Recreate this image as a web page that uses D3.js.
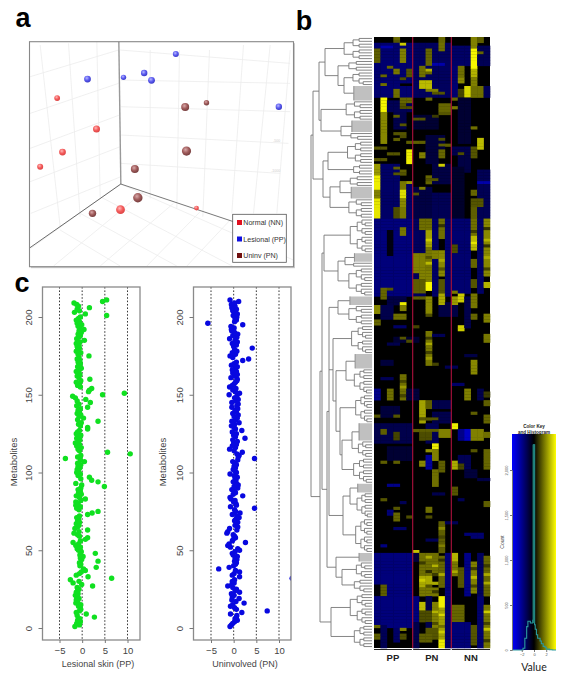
<!DOCTYPE html>
<html><head><meta charset="utf-8">
<script src="https://cdn.jsdelivr.net/npm/d3@7"></script>
<style>html,body{margin:0;padding:0;background:#fff}svg{display:block;font-family:"Liberation Sans",Arial,sans-serif}</style>
</head><body><svg id="c" width="570" height="683"></svg>
<script>
/* ---------- panel a: 3D PCA view ---------- */
const legendLabels = ["Normal (NN)", "Lesional (PP)", "Uninv (PN)"];
const legendColors = ["#e01020", "#1010e0", "#701010"];
const pcaBlueX = [527,370,432,454,262,836], pcaBlueY = [162,232,219,241,237,320], pcaBlueR = [3,2.7,3.2,3.4,3.4,3.2];
const pcaRedX = [171,289,187,120,361,589], pcaRedY = [294,387,456,500,629,624], pcaRedR = [2.9,3.5,3.4,3,4.4,2.4];
const pcaBrownX = [555,619,559,404,413,277], pcaBrownY = [321,308,453,507,593,640], pcaBrownR = [4,2.7,4.6,4,4.7,3.7];
const pcaTickLabels = ["0","-500","-1000"];
const pcaTickY = [328,427,517];

/* ---------- panel c: z scores per metabolite (index = y) ---------- */
const lesionalPP = [
-1.6,-0.6,-1.2,-0.4,-1.0,-0.5,2.7,-1.1,0.9,-1.3,
-0.6,-0.3,-0.4,-0.8,-0.3,-1.4,-1.0,-1.3,-0.7,-1.2,
-1.5,-0.9,-1.3,-1.0,-0.7,-1.1,2.3,-0.1,-2.0,-0.7,
-2.6,6.5,1.3,-1.3,-0.6,-0.2,0.7,0.3,3.1,-0.5,
-0.3,-0.6,3.5,-0.1,-0.4,0.2,-0.5,2.9,-0.2,-0.8,
-1.1,-0.4,-1.4,-0.8,-2.0,-0.4,0.7,1.2,-0.6,-1.0,
-1.8,-0.7,1.2,-1.6,-1.0,-0.7,-1.3,-0.6,-1.0,-0.8,
-1.2,-0.6,1.2,2.2,3.5,-0.7,-1.2,-0.4,-1.4,-0.9,
-1.4,-0.3,0.7,-0.6,-1.3,-0.2,-0.8,-0.4,-0.9,-0.3,
4.9,-0.1,-1.4,3.5,2.1,-0.3,1.6,-0.9,-0.4,-1.2,
-0.8,-1.1,-0.5,-0.9,-0.3,-1.0,0.5,-0.4,-3.7,-1.0,
-0.3,10.6,5.6,-0.6,-0.9,-0.2,-1.2,-0.6,-1.5,-0.9,
-0.5,-1.2,-0.7,-0.3,-1.3,-1.0,-0.6,1.2,1.2,-0.4,
-0.8,-0.2,3.5,-1.0,0.3,-0.7,-0.3,-1.1,-0.6,-0.9,
-0.4,1.2,-1.2,-0.7,1.8,-1.1,0.8,-1.5,-2.1,4.5,
9.3,1.4,1.6,2.1,-0.4,-1.0,-0.6,-1.3,-0.3,1.7,
-0.7,-1.1,-0.5,-0.9,-1.3,-0.6,-0.2,-1.0,-0.7,-0.4,
-0.9,-0.5,-1.1,-0.7,1.5,-0.9,-0.3,-1.3,-1.0,-0.6,
-1.1,-0.7,-1.3,-0.5,0.5,-1.2,-0.8,-0.4,-0.9,-0.2,
-0.7,0.4,-0.5,-0.9,-0.1,-1.1,-0.6,-1.3,-0.8,-0.4,
5.4,0.7,-1.7,-0.6,-1.1,1.6,-0.8,-1.2,-1.8,4.5,
5.4];
const uninvolvedPN = [
-0.8,-0.5,-0.2,0.2,0.8,0.3,0.6,0.7,-0.7,1.8,
7.4,0.6,0.2,-0.7,-0.2,2.3,0.5,-0.4,1.2,-0.3,
0.1,-0.5,1.3,0.3,0.6,-0.2,-1.3,-0.4,0.1,-0.3,
0.2,12.9,1.3,-0.3,0.1,1.3,0.4,-3.3,-1.0,0.0,
0.4,0.6,0.2,0.7,0.3,0.8,-0.1,-0.3,0.3,1.3,
0.9,-0.7,-1.3,-1.0,2.6,-0.3,-0.1,0.4,0.2,-0.1,
-1.5,-1.3,0.7,-0.9,0.9,0.3,0.6,0.9,0.2,0.5,
1.2,0.7,-0.3,1.4,0.4,0.2,4.6,-0.7,0.6,0.5,
0.0,0.3,-0.6,-0.8,2.0,-0.1,0.4,0.2,-0.4,0.9,
0.1,1.0,0.6,-0.1,0.5,0.3,0.8,0.1,-0.8,0.6,
0.3,-0.1,0.4,0.1,0.6,0.3,-0.2,0.9,4.6,1.0,
1.2,0.7,1.9,0.1,-0.9,0.4,-0.3,0.6,0.0,0.8,
-0.2,2.5,0.4,0.0,0.6,-0.3,1.8,0.4,0.1,-0.5,
0.2,1.2,-0.4,0.4,0.8,0.1,1.0,-0.2,0.6,0.3,
0.9,-0.4,0.7,1.0,-0.4,0.5,1.0,0.2,0.7,-1.0,
1.3,0.4,-0.2,0.5,-0.9,-0.3,0.1,0.4,0.7,0.8,
-0.6,0.2,0.8,-0.2,0.6,-0.3,0.3,0.8,-0.5,0.1,
0.6,2.0,3.3,-0.2,-0.8,0.4,-0.3,0.7,0.2,4.1,
0.0,0.6,-0.3,0.8,0.3,-0.9,0.7,-0.2,0.9,0.2,
-0.4,-0.5,0.1,-0.6,2.0,-5.7,0.2,0.6,0.3,0.7,
-0.1,0.8,0.4,-0.2,0.6,-0.4,0.3,-0.5,0.2,1.1,
-0.8];
const scatterXTicks = [-5,0,5,10];
const scatterYTicks = [0,50,100,150,200];

/* ---------- panel b: heat map, 212 rows x 18 columns ---------- */
const heatGroups = ["PP","PN","NN"];
const heatRowCount = 212, heatColCount = 18;
/* [firstRow,lastRow,firstCol,lastCol,value] */
const heatBlueBlocks = [
[2,20,0,5,-1.3],[2,20,6,11,-1.1],[3,9,12,14,-1.2],[10,20,12,12,-1.3],[3,9,16,17,-1],[17,20,16,17,-1],
[22,25,2,5,-1],[26,31,3,4,-0.9],[21,36,13,14,-0.6],[27,31,6,9,-0.6],[34,38,8,10,-0.7],
[38,43,8,9,-0.7],[38,40,12,14,-0.9],[41,46,13,14,-0.8],[44,62,1,3,-1.2],[50,62,5,5,-1.2],[45,62,12,13,-0.5],[52,62,6,8,-0.8],[44,50,9,11,-0.8],[54,62,9,11,-1.0],[46,62,16,17,-1.0],
[63,89,0,5,-1.45],[63,89,6,7,-1.1],[63,89,9,9,-1.2],[63,89,11,11,-1.3],[63,88,12,14,-1.3],[63,88,16,16,-1.2],
[67,75,2,2,-0.2],[90,92,2,4,-0.8],[93,97,1,2,-0.9],[92,96,10,12,-0.8],[90,100,14,14,-0.9],[104,105,3,6,-0.6],[112,113,1,2,-0.7],[122,125,0,0,-1.6],[122,125,5,6,-0.7],[122,125,16,16,-0.9],
[126,128,9,11,-0.9],[128,131,1,3,-0.7],[130,133,9,11,-0.9],[134,140,0,5,-0.9],[134,140,8,9,-1],[136,139,13,14,-1.6],[136,139,14,14,-2.3],
[142,146,2,5,-0.6],[145,149,8,8,-1.8],[145,149,13,14,-1],[164,165,2,2,-1.4],[172,173,15,16,-1.3],[150,152,14,15,-0.7],
[179,193,0,5,-1.45],[179,193,11,11,-1.4],[182,185,10,10,-1.3],[179,193,14,14,-1.6],[179,193,16,16,-1.1],[179,181,6,7,-0.7],
[190,193,0,0,-0.1],[194,204,0,6,-1.45],[194,204,8,8,-0.9],[204,211,1,1,-1],[205,209,3,3,-1.2],[194,211,11,11,-1.2],[203,211,12,14,-1.4],[194,211,16,16,-1.3],[203,211,6,6,-0.9]
];
const heatYellowBlocks = [
[0,0,3,3,1.2],[0,1,10,10,1.2],[0,4,15,15,1.5],[0,1,16,16,1.1],[2,2,4,4,2.4],[2,4,10,10,1.3],
[4,8,0,0,1.1],[4,8,4,4,1.5],[4,9,8,8,1.2],[4,10,15,15,2.9],[5,5,16,16,1.2],
[10,13,7,7,1.3],[11,11,8,8,2.1],[12,12,8,8,1.2],[11,12,3,3,1.4],[11,13,5,5,1.0],[13,13,1,1,1.2],[10,13,13,13,1.3],[11,15,15,15,2.1],[14,15,13,13,1.6],
[15,17,7,8,2.2],[14,16,15,15,1.5],[17,20,14,14,2.5],[17,20,15,16,1.3],[18,20,13,13,0.8],[18,20,3,3,1.3],[18,18,8,9,1.5],
[21,25,1,1,2.9],[26,36,1,1,1.6],[21,22,4,5,1.2],[21,21,8,8,1.2],[23,25,10,11,1.2],[24,24,12,12,1.4],[30,30,4,4,1],[34,34,4,4,0.9],[27,27,9,9,0.7],
[36,36,5,7,1.1],[35,35,10,10,0.9],[37,37,10,11,1.1],[35,38,16,16,2.2],[39,41,10,10,1.2],[38,41,15,15,1.0],[40,41,7,7,1.5],[39,43,5,5,2.8],[40,40,2,3,1],[42,42,0,1,1],
[44,47,0,0,1.8],[48,52,0,0,2.8],[53,55,0,0,1.5],[56,62,0,0,2.7],[44,44,10,10,2.4],[48,50,8,8,1.2],[50,50,5,5,1.8],[50,52,4,4,1.4],[53,55,4,4,2.6],[56,58,4,4,1.6],[59,62,3,3,0.9],[59,62,4,4,1.4],[52,52,7,7,1.5],[53,54,15,15,1.2],[56,58,15,16,1.0],[59,62,15,15,1.1],
[63,69,10,10,1.3],[63,66,7,8,1.3],[66,68,4,4,1.4],[63,68,15,15,1.3],[69,73,15,15,2.2],[63,82,17,17,1.6],[67,73,8,8,1.9],[73,80,8,8,1.4],[74,76,9,9,1.5],[75,81,6,7,1.5],[74,82,10,10,1.6],[77,79,15,15,1.2],[72,74,12,12,0.9],
[81,84,7,8,1.5],[84,88,6,7,1.1],[85,87,8,8,2.9],[84,88,10,10,1.0],[84,86,15,15,1.0],[85,86,17,17,2.1],[87,87,1,2,1],
[87,90,1,1,1.2],[89,92,10,10,2.0],[90,92,12,12,1.8],[89,91,13,13,2.4],[89,93,15,15,1.4],[88,88,12,12,1.4],[90,95,8,8,1.6],[90,90,6,7,1.1],
[93,95,0,0,1.6],[92,92,4,4,2.8],[93,94,4,4,1.5],[96,97,3,4,1.3],[96,97,15,15,1.2],[96,98,17,17,1.5],[98,99,0,0,1.2],[96,96,8,8,0.9],
[100,101,13,13,2.4],[102,113,8,8,1.4],[104,104,4,4,1.0],[103,105,17,17,1.4],[100,100,6,6,0.8],[112,116,15,15,1.6],[105,105,5,5,0.9],[113,113,9,9,0.8],
[117,125,4,4,1.3],[122,125,2,2,1.3],[122,125,14,14,1.5],[123,124,17,17,0.7],
[126,133,7,7,1.9],[126,128,8,8,1.1],[126,127,17,17,1.1],[131,133,17,17,1.2],[130,130,15,15,1.1],[131,131,0,0,1],[131,131,3,3,1],[132,132,7,9,1.0],
[134,135,12,12,2.8],[136,136,6,9,1.1],[136,138,10,11,1.5],[136,139,15,16,1.5],[137,139,7,8,0.9],[136,137,1,1,1.1],[137,139,3,3,0.8],[137,138,17,17,1.3],
[141,142,9,9,2.8],[143,146,9,9,1.5],[143,143,8,8,1.7],[143,149,17,17,1.2],[143,143,15,15,1],
[147,148,7,7,1.6],[147,149,12,12,2.0],[147,147,1,1,1.1],[147,147,3,3,1.1],[147,150,10,10,1.1],[148,149,13,13,0.8],
[150,155,9,9,1.3],[156,158,12,12,1.0],[161,162,17,17,1.1],[160,160,1,1,1],[163,163,3,3,1],[163,164,8,8,1.3],[165,167,3,3,1.2],[166,166,8,8,0.9],[166,166,5,5,0.9],
[168,178,10,10,1.1],[178,178,6,6,2.3],
[179,181,12,12,2.1],[182,186,12,12,1.4],[179,186,7,9,1.3],[187,190,7,8,2.0],[191,193,7,9,1.4],[180,190,10,10,1.2],[184,190,13,13,1.0],[182,192,15,15,1.5],[180,193,17,17,1.2],[190,193,1,1,1.1],
[194,197,10,10,2.8],[198,208,10,10,1.9],[209,211,10,10,2.8],[196,204,9,9,1.5],[205,208,8,9,1.0],[196,198,7,7,2.2],[199,202,7,8,0.9],[197,202,12,13,1.2],[197,211,17,17,1.4],[204,210,15,15,1.0],[204,204,0,0,1.2],[207,208,0,0,1.1],[205,205,4,4,1.5],[207,208,4,4,0.9],[207,209,7,8,1.1]
];
/* one-row streaks: [row,firstCol,lastCol,value] */
const heatStreaks = [
[1,3,3,1],[3,1,2,-2],[9,9,10,-2],[10,2,2,1.2],[14,4,4,0.9],[16,4,5,0],[16,1,1,1.3],[19,9,10,1],[21,12,12,1.2],[23,4,4,1],[24,4,5,0.9],[26,10,11,1],[27,3,3,1.1],[28,6,7,1],[31,15,15,1.3],[33,3,4,1],[35,3,3,1.1],[38,0,1,1],[40,13,13,0.9],[45,3,3,1.1],[46,4,4,1.1],[47,3,4,1],[49,8,9,1],[50,16,17,-2],[54,6,6,1],
[66,17,17,0.6],[70,17,17,2.1],[72,17,17,0.6],[76,17,17,2],[80,17,17,0.8],[70,8,8,2.4],[76,8,8,1],[78,8,8,2.2],[65,10,10,0.6],[77,10,10,2],[80,10,10,1],[67,15,15,0.7],[71,15,15,2.7],
[100,3,4,-1.2],[103,9,10,-1.0],[106,2,3,-0.9],[110,14,15,-0.8],[114,11,12,-1],[118,1,2,-1],[120,12,13,-1.2],
[104,8,8,0.7],[106,8,8,2],[109,8,8,0.8],[111,8,8,1.8],[119,4,4,0.8],[121,4,4,1.8],[124,4,4,0.8],
[153,16,17,-0.8],[155,2,3,-1.6],[158,9,10,-0.9],[160,13,13,-1],[161,4,4,-1],[168,11,12,-1],[170,3,4,-1.2],[172,14,14,-1.4],[174,8,9,-1],[176,1,1,-1.5],
[170,10,10,1.6],[173,10,10,0.8],[176,10,10,1.5],
[180,8,8,2],[182,7,7,0.7],[183,9,9,2.1],[185,8,8,0.5],[186,9,9,0.7],[188,7,7,2.4],[189,9,9,2],[190,8,8,1],[192,9,9,0.7],[181,10,10,0.6],[186,10,10,2],[185,12,12,2],[187,15,15,2.2],[184,15,15,0.7],[190,15,15,0.8],[189,17,17,2],[183,17,17,0.7],[186,17,17,2],
[200,10,10,2.5],[204,10,10,1.3],[206,10,10,2.4],[199,17,17,2.4],[203,17,17,0.8],[205,17,17,2.3],[209,17,17,0.7],[199,9,9,2.1],[203,9,9,0.9]
];

/* ---------- colour key histogram ---------- */
const histValue = [-3.5,-2,-1.8,-1.5,-1.2,-1,-0.8,-0.6,-0.4,-0.2,-0.1,0.1,0.2,0.4,0.6,0.8,1,1.2,1.5,1.8,2,2.5,3,3.6];
const histCount = [0,0,20,130,260,320,320,300,300,330,2280,280,230,170,130,130,100,70,40,30,10,3,0,0];
const keyYTicks = [0,500,1000,1500,2000], keyXTicks = [-2,0,2];

/* ---------- dendrogram: [mergeDepth, children...]; n = tight comb of n leaves, -n = pale fan of n leaves ---------- */
const treeSpec = [311,
  [313,
    [319,
      [325,[331,8],[338,4,[344,5,-5]]],
      [321,[334,7],[341,-4,3]]],
    [323,[328,[336,8],[345,4]],[330,[340,4,-4],[338,7]]]],
  [320,
    [322,
      [324,[333,[340,12]],[338,[345,-3,2],10]],
      [327,
        [329,[338,-3,7],[333,[342,10],[336,[346,-5,9],[340,[348,10],[342,[352,-6,6],[345,9]]]]],[343,[350,-3,9],[348,12]]],
        [336,[352,-3],[342,[349,6],[346,5]]]]],
    [331,[340,11],[346,8]]]];

/* ========== drawing ========== */
const svg = d3.select("#c");
const defs = svg.append("defs");
function ball(id,c0,c1,c2){
  const g=defs.append("radialGradient").attr("id",id).attr("cx","40%").attr("cy","35%").attr("r","70%");
  g.append("stop").attr("offset","0%").attr("stop-color",c0);
  g.append("stop").attr("offset","50%").attr("stop-color",c1);
  g.append("stop").attr("offset","100%").attr("stop-color",c2);
}
ball("bBlue","#b8b8ff","#5c5cf0","#3434c0");
ball("bRed","#ffb8b8","#f45c5c","#d84040");
ball("bBrown","#d8a8a8","#a05c5c","#703838");

/* panel letters */
[["a",23,27],["b",304,30],["c",22,292]].forEach(d=>{
  svg.append("text").attr("x",d[1]).attr("y",d[2]).attr("font-size",27).attr("font-weight","bold")
    .attr("fill","#000").attr("text-anchor","middle").text(d[0]);
});

/* ---- a ---- */
const ax = d3.scaleLinear().domain([88,880]).range([29.5,293.5]);
const ay = d3.scaleLinear().domain([125,800]).range([41.7,266.7]);
const ga = svg.append("g");
ga.append("rect").attr("x",ax(88)+1.5).attr("y",ay(125)+1.5).attr("width",ax(880)-ax(88)).attr("height",ay(800)-ay(125)).attr("fill","#ccc");
ga.append("rect").attr("x",ax(88)).attr("y",ay(125)).attr("width",ax(880)-ax(88)).attr("height",ay(800)-ay(125)).attr("fill","#fff");
const gridLines = [
 [120,135,180,680],[205,130,240,650],[290,125,300,590],
 [90,230,355,150],[90,340,355,250],[90,445,358,345],[90,545,360,440],[92,640,362,530],
 [360,150,870,190],[362,240,870,250],[362,320,870,335],[362,405,865,430],[362,490,840,520],
 [450,150,450,595],[538,150,530,625],[628,150,608,650],[730,135,695,640],[810,135,760,640],[870,150,830,640],
 [92,745,360,552],[160,798,430,575],[300,798,520,610],[440,798,600,635],[560,798,690,660],
 [362,552,880,780],[300,590,700,800],[240,640,530,798],[180,690,360,798]];
ga.selectAll("line.g").data(gridLines).join("line").attr("class","g")
  .attr("x1",d=>ax(d[0])).attr("y1",d=>ay(d[1])).attr("x2",d=>ax(d[2])).attr("y2",d=>ay(d[3]))
  .attr("stroke","#ececec").attr("stroke-width",0.8);
ga.selectAll("text.t").data(pcaTickLabels).join("text").attr("class","t")
  .attr("x",ax(840)).attr("y",(d,i)=>ay(pcaTickY[i])).attr("font-size",3.5).attr("fill","#ccc").attr("text-anchor","end").text(d=>d);
ga.append("line").attr("x1",ax(356)).attr("y1",ay(125)).attr("x2",ax(362)).attr("y2",ay(552)).attr("stroke","#999").attr("stroke-width",1.4);
ga.append("line").attr("x1",ax(362)).attr("y1",ay(552)).attr("x2",ax(88)).attr("y2",ay(744)).attr("stroke","#444").attr("stroke-width",0.8);
ga.append("line").attr("x1",ax(362)).attr("y1",ay(552)).attr("x2",ax(700)).attr("y2",ay(665)).attr("stroke","#555").attr("stroke-width",0.8);
function balls(xs,ys,rs,id){
  ga.selectAll("circle."+id).data(xs.map((x,i)=>({x,y:ys[i],r:rs[i]}))).join("circle").attr("class",id)
    .attr("cx",d=>ax(d.x)).attr("cy",d=>ay(d.y)).attr("r",d=>d.r).attr("fill","url(#"+id+")");
}
balls(pcaBlueX,pcaBlueY,pcaBlueR,"bBlue");
balls(pcaRedX,pcaRedY,pcaRedR,"bRed");
balls(pcaBrownX,pcaBrownY,pcaBrownR,"bBrown");
ga.append("rect").attr("x",ax(88)).attr("y",ay(125)).attr("width",ax(880)-ax(88)).attr("height",ay(800)-ay(125)).attr("fill","none").attr("stroke","#888").attr("stroke-width",1.1);
const legRow = d3.scalePoint().domain(legendLabels).range([222.5,255.5]);
ga.append("rect").attr("x",232.7).attr("y",214.3).attr("width",53.6).attr("height",48).attr("fill","#fff").attr("stroke","#555").attr("stroke-width",0.8);
legendLabels.forEach((l,i)=>{
  ga.append("rect").attr("x",237).attr("y",legRow(l)-2.5).attr("width",5).attr("height",5).attr("fill",legendColors[i]);
  ga.append("text").attr("x",243.3).attr("y",legRow(l)+2.5).attr("font-size",7.1).attr("fill","#333").text(l);
});

/* ---- c ---- */
function scatter(values,color,left,right,x0,x10,label,labelX,nameX){
  const xs=d3.scaleLinear().domain([-5,10]).range([x0,x10]);
  const ys=d3.scaleLinear().domain([0,200]).range([628,317]);
  const top=287,bot=640;
  const id="clip"+color.slice(1);
  defs.append("clipPath").attr("id",id).append("rect").attr("x",left).attr("y",top).attr("width",right-left).attr("height",bot-top);
  const g=svg.append("g");
  g.selectAll("line.v").data(scatterXTicks).join("line").attr("class","v")
    .attr("x1",d=>xs(d)).attr("x2",d=>xs(d)).attr("y1",top).attr("y2",bot)
    .attr("stroke","#222").attr("stroke-width",0.9).attr("stroke-dasharray","1.6 1.8");
  g.append("g").attr("clip-path",`url(#${id})`).selectAll("circle").data(values).join("circle")
    .attr("cx",d=>xs(d)).attr("cy",(d,i)=>ys(i+1)).attr("r",2.7).attr("fill",color);
  g.append("rect").attr("x",left).attr("y",top).attr("width",right-left).attr("height",bot-top).attr("fill","none").attr("stroke","#8a8a8a").attr("stroke-width",1.3);
  const xa=g.append("g").attr("transform",`translate(0,${bot})`).call(d3.axisBottom(xs).tickValues(scatterXTicks).tickSize(3).tickFormat(d=>d<0?"\u2212"+(-d):d));
  xa.select(".domain").remove();
  xa.selectAll("line").attr("stroke","#777");
  xa.selectAll("text").attr("font-size",9.5).attr("fill","#444").attr("y",7.5).attr("font-family","'Liberation Sans',sans-serif");
  const ya=g.append("g").attr("transform",`translate(${left},0)`).call(d3.axisLeft(ys).tickValues(scatterYTicks).tickSize(4));
  ya.select(".domain").remove();
  ya.selectAll("line").attr("stroke","#777");
  ya.selectAll("text").attr("font-size",9.5).attr("fill","#444").attr("font-family","'Liberation Sans',sans-serif")
    .attr("text-anchor","middle").attr("transform",`translate(${-13.5},0) rotate(-90)`).attr("x",0).attr("y",0).attr("dy","0.35em");
  g.append("text").attr("x",labelX).attr("y",666.5).attr("text-anchor","middle").attr("font-size",9).attr("fill","#444").text(label);
  g.append("text").attr("transform",`translate(${nameX},462) rotate(-90)`).attr("text-anchor","middle").attr("font-size",9.5).attr("fill","#444").text("Metabolites");
}
scatter(lesionalPP,"#10e020",42.5,140,59.5,127.5,"Lesional skin (PP)",98,17);
scatter(uninvolvedPN,"#0808e0",193.5,291,211,279,"Uninvolved (PN)",245,166);

/* ---- b heat map ---- */
const rowIdx=d3.range(heatRowCount), colIdx=d3.range(heatColCount);
const hx=d3.scaleBand().domain(colIdx).range([374,490]);
const hy=d3.scaleBand().domain(rowIdx).range([37,648]);
const hc=d3.scaleLinear().domain([-3,0,3]).range(["#0000ff","#000000","#ffff00"]);
const grid=rowIdx.map(()=>colIdx.map(()=>0));
[...heatBlueBlocks,...heatYellowBlocks].forEach(([r0,r1,c0,c1,v])=>{
  for(let r=r0;r<=r1;r++)for(let c=c0;c<=c1;c++)grid[r][c]=v;
});
heatStreaks.forEach(([r,c0,c1,v])=>{for(let c=c0;c<=c1;c++)grid[r][c]=v;});
const cells=[];grid.forEach((row,r)=>row.forEach((v,c)=>cells.push({r,c,v})));
const gh=svg.append("g").style("filter","blur(0.4px)");
gh.append("rect").attr("x",374).attr("y",37).attr("width",116).attr("height",611).attr("fill","#000");
gh.selectAll("rect.c").data(cells.filter(d=>d.v!==0)).join("rect").attr("class","c")
  .attr("x",d=>hx(d.c)).attr("y",d=>hy(d.r)).attr("width",hx.bandwidth()+0.3).attr("height",hy.bandwidth()+0.3).attr("fill",d=>hc(d.v));
gh.selectAll("line.sep").data([6,12]).join("line").attr("class","sep")
  .attr("x1",d=>hx(d)).attr("x2",d=>hx(d)).attr("y1",37).attr("y2",648).attr("stroke","#a01038").attr("stroke-width",1.2);

/* group labels */
heatGroups.forEach((g,i)=>{
  const a=hx(i*6)+(i?0.5:0), b=hx(i*6+5)+hx.bandwidth()-(i<2?0.8:0);
  svg.append("line").attr("x1",a).attr("x2",b).attr("y1",649.5).attr("y2",649.5).attr("stroke","#222").attr("stroke-width",1.2);
  svg.append("text").attr("x",(a+b)/2).attr("y",660.5).attr("text-anchor","middle").attr("font-size",9.5).attr("font-weight","bold").attr("fill","#222").text(g);
});

/* ---- dendrogram ---- */
const depthX=d3.scaleLinear().domain([311,372]).range([311,372]);
function expand(n,parent){
  if(n===1) return {leaf:true,depth:372};
  if(n<0) return {depth:parent+(372-parent)*0.35,fan:true,children:d3.range(-n).map(()=>({leaf:true,depth:372,pale:true}))};
  const d=parent+(372-parent)*0.32;
  const left=n>=4?Math.floor(n/2):1;
  return {depth:d,children:[expand(left,d),expand(n-left,d)]};
}
function build(s,parent){
  if(typeof s==="number") return expand(s,parent);
  const [depth,...kids]=s;
  return {depth,children:kids.map(k=>build(k,depth))};
}
const root=d3.hierarchy(build(treeSpec,311));
let nextRow=0;
root.eachAfter(n=>{
  if(!n.children){n.row=nextRow++;n.yy=hy(Math.min(n.row,211))+hy.bandwidth()/2;}
  else{n.yy=(n.children[0].yy+n.children[n.children.length-1].yy)/2;}
  n.xx=depthX(n.data.depth);
});
const gt=svg.append("g").attr("fill","none");
const tl=root.descendants().filter(n=>n.children);
gt.selectAll("path.n").data(tl).join("path").attr("class","n")
  .attr("stroke",d=>d.data.fan?"#c0c0c0":"#777").attr("stroke-width",d=>d.data.fan?2.9:0.9)
  .attr("d",d=>d.children.map(ch=>`M${d.xx},${ch.yy}H${ch.xx}`).join("")+(d.data.fan?"":`M${d.xx},${d.children[0].yy}V${d.children[d.children.length-1].yy}`));
gt.append("path").attr("stroke","#888").attr("stroke-width",0.9).attr("d",
  tl.filter(n=>n.data.fan).map(d=>`M${d.xx},${d.children[0].yy-1.4}V${d.children[d.children.length-1].yy+1.4}`).join(""));

/* ---- colour key ---- */
const kx=d3.scaleLinear().domain([-3.6,3.6]).range([512,556]);
const ky=d3.scaleLinear().domain([0,2000]).range([650,470]);
const kgrad=defs.append("linearGradient").attr("id","kg").attr("x1","0").attr("x2","1").attr("y1","0").attr("y2","0");
[[0,"#0000ff"],[0.5,"#000000"],[1,"#ffff00"]].forEach(s=>kgrad.append("stop").attr("offset",s[0]).attr("stop-color",s[1]));
const gk=svg.append("g");
gk.append("rect").attr("x",kx(-3.6)).attr("y",434).attr("width",kx(3.6)-kx(-3.6)).attr("height",216).attr("fill","url(#kg)");
gk.append("path").attr("fill","none").attr("stroke","#2a9aa0").attr("stroke-width",1.1)
  .attr("d",d3.line().x(d=>kx(d[0])).y(d=>ky(d[1])).curve(d3.curveStepAfter)(histValue.map((v,i)=>[v,histCount[i]])));
gk.append("line").attr("x1",kx(-0.1)+0.3).attr("x2",kx(-0.1)+0.3).attr("y1",ky(2280)).attr("y2",ky(300)).attr("stroke","#1f7f78").attr("stroke-width",2);
const kya=gk.append("g").attr("transform","translate(512,0)").call(d3.axisLeft(ky).tickValues(keyYTicks).tickSize(2));
kya.select(".domain").attr("stroke","#777");kya.selectAll("line").attr("stroke","#777");
kya.selectAll("text").attr("font-size",4).attr("fill","#555").attr("text-anchor","middle").attr("transform","translate(-5,0) rotate(-90)").attr("x",0).attr("y",0).attr("dy","0.35em");
const kxa=gk.append("g").attr("transform","translate(0,650)").call(d3.axisBottom(kx).tickValues(keyXTicks).tickSize(2));
kxa.select(".domain").remove();kxa.selectAll("line").attr("stroke","#777");
kxa.selectAll("text").attr("font-size",4).attr("fill","#555").attr("y",3).text(d=>d<0?"\u2212"+(-d):d);
gk.append("text").attr("transform","translate(503.5,542) rotate(-90)").attr("text-anchor","middle").attr("font-size",5).attr("fill","#444").text("Count");
gk.append("text").attr("x",534).attr("y",428).attr("text-anchor","middle").attr("font-size",4.6).attr("font-weight","bold").attr("fill","#222").text("Color Key");
gk.append("text").attr("x",534).attr("y",433.5).attr("text-anchor","middle").attr("font-size",4.6).attr("font-weight","bold").attr("fill","#222").text("and Histogram");
gk.append("text").attr("x",534).attr("y",671).attr("text-anchor","middle").attr("font-size",10.5).attr("font-family","Lato,sans-serif").attr("fill","#222").text("Value");
</script></body></html>
